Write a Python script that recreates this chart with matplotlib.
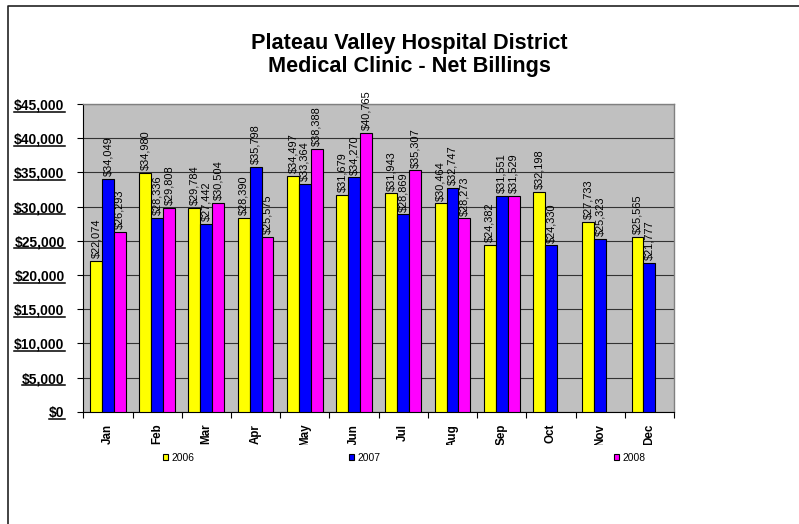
import numpy as np
import matplotlib
matplotlib.use('Agg')
import matplotlib.pyplot as plt
from matplotlib import font_manager
from matplotlib.patches import Patch
from matplotlib.lines import Line2D
from matplotlib.transforms import Bbox, TransformedBbox, IdentityTransform

# ---- data ----
months = ['Jan', 'Feb', 'Mar', 'Apr', 'May', 'Jun', 'Jul', 'Aug', 'Sep', 'Oct', 'Nov', 'Dec']
series_names = ['2006', '2007', '2008']
billings_2006 = [22074, 34980, 29784, 28390, 34497, 31679, 31943, 30464, 24382, 32198, 27733, 25565]
billings_2007 = [34049, 28336, 27442, 35798, 33364, 34270, 28869, 32747, 31551, 24330, 25323, 21777]
billings_2008 = [26293, 29808, 30504, 25575, 38388, 40765, 35307, 28273, 31529, None, None, None]
y_ticks = [0, 5000, 10000, 15000, 20000, 25000, 30000, 35000, 40000, 45000]
title_text = 'Plateau Valley Hospital District\nMedical Clinic - Net Billings'

colors = ['#FFFF00', '#0000FF', '#FF00FF']

plt.rcParams['font.family'] = ['Liberation Sans', 'DejaVu Sans']

# narrow font for rotated texts (falls back to regular if not installed)
try:
    font_manager.findfont(font_manager.FontProperties(family='Liberation Sans Narrow'),
                          fallback_to_default=False)
    narrow = ['Liberation Sans Narrow', 'Liberation Sans', 'DejaVu Sans']
    lab_fs, month_fs = 9.4, 9.8
except Exception:
    narrow = ['Liberation Sans', 'DejaVu Sans']
    lab_fs, month_fs = 7.9, 8.4

W, H = 799, 524
fig = plt.figure(figsize=(W / 100, H / 100), dpi=100)
fig.patch.set_facecolor('white')

L, R, T, B = 83.3, 674.0, 104.0, 411.7
ax = fig.add_axes([L / W, 1 - B / H, (R - L) / W, (B - T) / H])
ax.set_facecolor('#C0C0C0')

x = np.arange(len(months))
bw = 0.242
all_series = [billings_2006, billings_2007, billings_2008]
for i, (name, vals, c) in enumerate(zip(series_names, all_series, colors)):
    v = np.array([np.nan if a is None else a for a in vals], dtype=float)
    xs = x + (i - 1) * bw
    ax.bar(xs, v, width=bw, color=c, edgecolor='black', linewidth=0.8, zorder=3)
    for xi, vi in zip(xs, v):
        if np.isnan(vi):
            continue
        ax.annotate(f'${vi:,.0f}', (xi, vi), xytext=(0, 2), textcoords='offset points',
                    rotation=90, ha='center', va='bottom', fontsize=lab_fs, zorder=4,
                    family=narrow, annotation_clip=False)

ax.set_xlim(-0.5, len(months) - 0.5)
ax.set_ylim(y_ticks[0], y_ticks[-1])

# y axis
ax.set_yticks(y_ticks)
ax.set_yticklabels([f'${t:,}' for t in y_ticks], fontweight='bold', fontsize=10)
ax.tick_params(axis='y', direction='out', length=4, width=0.8, pad=9.5)
ax.yaxis.grid(True, color='#333333', linewidth=0.8)
ax.set_axisbelow(True)

# x axis: ticks at group boundaries, labels at centers
ax.set_xticks(np.arange(len(months) + 1) - 0.5)
ax.set_xticklabels([])
ax.set_xticks(x, minor=True)
ax.set_xticklabels(months, minor=True, rotation=90, fontweight='bold', fontsize=month_fs,
                   va='top', family=narrow)
ax.tick_params(axis='x', which='major', direction='out', length=4, width=0.8)
ax.tick_params(axis='x', which='minor', length=0, pad=8.7)

for s in ['left', 'bottom']:
    ax.spines[s].set_color('#000000')
    ax.spines[s].set_linewidth(0.8)
for s in ['top', 'right']:
    ax.spines[s].set_color('#808080')
    ax.spines[s].set_linewidth(1.0)

# title
fig.text(409.7 / W, 1 - 72.3 / H, title_text, ha='center', va='baseline',
         fontsize=15.6, fontweight='bold', linespacing=1.15, multialignment='center')

# legends (three separate entries, as in the original)
legend_x = [162.7, 349.0, 613.7]
for name, c, lx in zip(series_names, colors, legend_x):
    fig.legend(handles=[Patch(facecolor=c, edgecolor='black', linewidth=0.8)], labels=[name],
               loc='center left', bbox_to_anchor=(lx / W, 1 - 457.7 / H), frameon=False,
               fontsize=7.4, handlelength=0.5, handleheight=0.5, handletextpad=0.35,
               borderpad=0, borderaxespad=0)

# chart-area border (left & top)
fig.add_artist(Line2D([8 / W, 8 / W, 1], [0, 1 - 6 / H, 1 - 6 / H],
                      transform=fig.transFigure, color='#222222', linewidth=1.2))

fig.canvas.draw()
renderer = fig.canvas.get_renderer()

# clip month labels at the bottom like the original
clip = TransformedBbox(Bbox([[0, 1 - 444.5 / H], [1, 1]]), fig.transFigure)
for tick in ax.xaxis.get_minor_ticks():
    tick.label1.set_clip_box(clip)
    tick.label1.set_clip_on(True)

# underline y tick labels
for lbl in ax.get_yticklabels():
    if not lbl.get_visible() or not lbl.get_text():
        continue
    bb = lbl.get_window_extent(renderer)
    yy = bb.y0 + 0.8
    fig.add_artist(Line2D([bb.x0, bb.x1], [yy, yy], transform=IdentityTransform(),
                          color='black', linewidth=1.1))

fig.savefig('out.png', dpi=100)
